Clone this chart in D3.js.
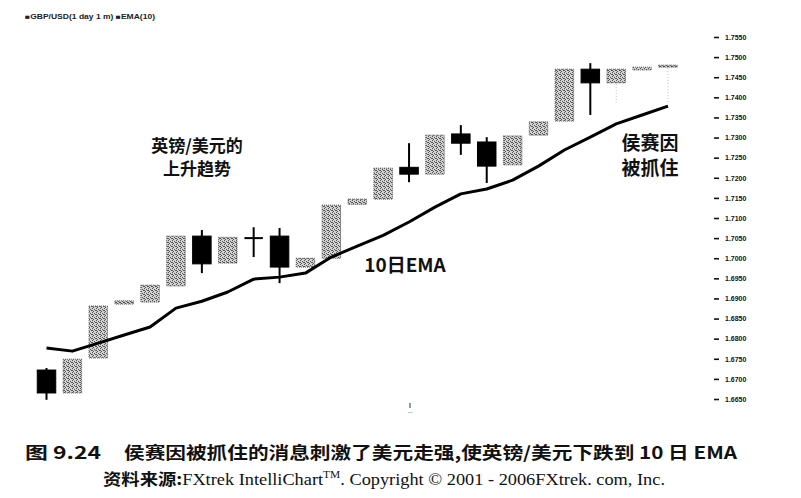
<!DOCTYPE html>
<html>
<head>
<meta charset="utf-8">
<script src="https://cdn.jsdelivr.net/npm/d3@7/dist/d3.min.js"></script>
<style>
  body { margin: 0; background: #fff; }
  .tick text { font-family: "Liberation Sans", Arial, sans-serif; font-size: 7px; font-weight: bold; }
  .note { font-family: "Noto Sans CJK SC", sans-serif; font-weight: bold; fill: #111; }
</style>
</head>
<body>
<div id="chart"></div>
<script>

// Data (GBP/USD daily, 25 sessions)
// ==============================
var days   = [1, 2, 3, 4, 5, 6, 7, 8, 9, 10, 11, 12, 13, 14, 15, 16, 17, 18, 19, 20, 21, 22, 23, 24, 25];
var opens  = [1.6722, 1.6665, 1.6752, 1.6886, 1.6891, 1.6931, 1.7055, 1.6988, 1.7050, 1.7055, 1.6978, 1.7000, 1.7134,
              1.7147, 1.7226, 1.7209, 1.7309, 1.7289, 1.7232, 1.7306, 1.7341, 1.7470, 1.7436, 1.7468, 1.7478];
var highs  = [1.6727, 1.6749, 1.6881, 1.6894, 1.6933, 1.7055, 1.7070, 1.7052, 1.7077, 1.7075, 1.7000, 1.7132, 1.7147,
              1.7224, 1.7286, 1.7306, 1.7331, 1.7301, 1.7304, 1.7339, 1.7470, 1.7485, 1.7470, 1.7475, 1.7480];
var lows   = [1.6648, 1.6665, 1.6752, 1.6886, 1.6891, 1.6931, 1.6963, 1.6988, 1.7003, 1.6938, 1.6978, 1.7000, 1.7134,
              1.7147, 1.7189, 1.7209, 1.7257, 1.7187, 1.7232, 1.7306, 1.7341, 1.7356, 1.7386, 1.7468, 1.7386];
var closes = [1.6665, 1.6749, 1.6881, 1.6894, 1.6933, 1.7055, 1.6986, 1.7052, 1.7050, 1.6978, 1.7000, 1.7132, 1.7147,
              1.7224, 1.7209, 1.7306, 1.7286, 1.7229, 1.7304, 1.7339, 1.7470, 1.7436, 1.7470, 1.7475, 1.7480];
var ema10  = [1.6777, 1.6769, 1.6789, 1.6809, 1.6829, 1.6876, 1.6893, 1.6916, 1.6948, 1.6953, 1.6963, 1.7003, 1.7030,
              1.7057, 1.7090, 1.7127, 1.7160, 1.7172, 1.7194, 1.7229, 1.7269, 1.7301, 1.7334, 1.7356, 1.7378];
var yTicks = [1.6650, 1.6700, 1.6750, 1.6800, 1.6850, 1.6900, 1.6950, 1.7000, 1.7050, 1.7100,
              1.7150, 1.7200, 1.7250, 1.7300, 1.7350, 1.7400, 1.7450, 1.7500, 1.7550];

var svgWidth = 801;
var svgHeight = 498;
var bodyW = 18.5;

var svg = d3.select("#chart")
  .append("svg")
  .attr("width", svgWidth)
  .attr("height", svgHeight)
  .style("background", "#fff");

// stipple fill for the up candles
var pat = svg.append("defs").append("pattern")
  .attr("id", "stipple")
  .attr("width", 4).attr("height", 4)
  .attr("patternUnits", "userSpaceOnUse");
pat.append("rect").attr("width", 4).attr("height", 4).attr("fill", "#d2d2d2");
[[0, 0], [2, 1], [1, 3], [3, 2], [0, 2]].forEach(function(p) {
  pat.append("rect").attr("x", p[0]).attr("y", p[1]).attr("width", 1).attr("height", 1).attr("fill", "#555");
});

var candles = days.map(function(d, i) {
  return { day: d, open: opens[i], high: highs[i], low: lows[i], close: closes[i], ema: ema10[i] };
});

// Scales
// ==============================
var xScale = d3.scalePoint()
  .domain(days)
  .range([46.5, 668]);

var yScale = d3.scaleLinear()
  .domain([1.6650, 1.7550])
  .range([399, 37]);

// right axis
var rightAxis = d3.axisRight(yScale)
  .tickValues(yTicks)
  .tickSize(5)
  .tickPadding(6)
  .tickFormat(d3.format(".4f"));

var axisG = svg.append("g")
  .attr("transform", "translate(714,0)")
  .call(rightAxis);
axisG.select(".domain").remove();
axisG.selectAll(".tick line").attr("stroke", "#111").attr("stroke-width", 1.6);
axisG.selectAll(".tick text").attr("fill", "#111");

// wicks
// ==============================
svg.selectAll("line.wick")
  .data(candles)
  .enter()
  .append("line")
  .attr("class", "wick")
  .attr("x1", d => xScale(d.day))
  .attr("x2", d => xScale(d.day))
  .attr("y1", d => yScale(d.high))
  .attr("y2", d => yScale(d.low))
  .attr("stroke", d => d.close > d.open ? "#bbb" : "#000")
  .attr("stroke-width", d => d.close > d.open ? 1 : 2)
  .attr("stroke-dasharray", d => d.close > d.open ? "1,2" : null);

// bodies
svg.selectAll("rect.body")
  .data(candles.filter(d => d.open !== d.close))
  .enter()
  .append("rect")
  .attr("class", "body")
  .attr("x", d => xScale(d.day) - bodyW / 2)
  .attr("width", bodyW)
  .attr("y", d => yScale(Math.max(d.open, d.close)))
  .attr("height", d => Math.max(2, Math.abs(yScale(d.open) - yScale(d.close))))
  .attr("fill", d => d.close > d.open ? "url(#stipple)" : "#000")
  .attr("stroke", d => d.close > d.open ? "#555" : "#000")
  .attr("stroke-width", 1)
  .attr("stroke-dasharray", d => d.close > d.open ? "1,1" : null);

// doji bar
svg.selectAll("line.doji")
  .data(candles.filter(d => d.open === d.close))
  .enter()
  .append("line")
  .attr("class", "doji")
  .attr("x1", d => xScale(d.day) - bodyW / 2)
  .attr("x2", d => xScale(d.day) + bodyW / 2)
  .attr("y1", d => yScale(d.open))
  .attr("y2", d => yScale(d.open))
  .attr("stroke", "#000")
  .attr("stroke-width", 2);

// EMA line
// ==============================
var emaLine = d3.line()
  .x(d => xScale(d.day))
  .y(d => yScale(d.ema))
  .curve(d3.curveLinear);

svg.append("path")
  .datum(candles)
  .attr("d", emaLine)
  .attr("fill", "none")
  .attr("stroke", "#000")
  .attr("stroke-width", 3)
  .attr("stroke-linejoin", "round");

// tiny legend at top left
svg.append("text")
  .attr("x", 25).attr("y", 19)
  .attr("font-family", "Liberation Sans, Arial, sans-serif")
  .attr("font-size", 6.5)
  .attr("font-weight", "bold")
  .attr("fill", "#222")
  .attr("textLength", 130)
  .attr("lengthAdjust", "spacingAndGlyphs")
  .text("\u25A0GBP/USD(1 day 1 m)  \u25A0EMA(10)");

// small mark under the chart
svg.append("line")
  .attr("x1", 410).attr("x2", 410).attr("y1", 403).attr("y2", 408)
  .attr("stroke", "#333").attr("stroke-width", 1);
svg.append("text")
  .attr("x", 410).attr("y", 413)
  .attr("text-anchor", "middle")
  .attr("font-size", 6).attr("fill", "#555")
  .text("...");

// annotations
// ==============================
svg.append("text").attr("class", "note").attr("x", 197).attr("y", 152)
  .attr("text-anchor", "middle").attr("font-size", 17).text("英镑/美元的");
svg.append("text").attr("class", "note").attr("x", 197).attr("y", 175)
  .attr("text-anchor", "middle").attr("font-size", 17).text("上升趋势");

svg.append("text").attr("class", "note").attr("x", 405).attr("y", 272)
  .attr("text-anchor", "middle").attr("font-size", 19)
  .attr("font-family", "Liberation Sans, Arial, sans-serif")
  .text("10日EMA");

svg.append("text").attr("class", "note").attr("x", 650).attr("y", 150)
  .attr("text-anchor", "middle").attr("font-size", 19).text("侯赛因");
svg.append("text").attr("class", "note").attr("x", 650).attr("y", 175)
  .attr("text-anchor", "middle").attr("font-size", 19).text("被抓住");

// caption
// ==============================
svg.append("text")
  .attr("x", 25).attr("y", 459)
  .attr("font-family", "Noto Sans CJK SC, sans-serif")
  .attr("font-weight", "bold")
  .attr("font-size", 17)
  .attr("fill", "#111")
  .attr("textLength", 76)
  .attr("lengthAdjust", "spacingAndGlyphs")
  .text("图 9.24");

svg.append("text")
  .attr("x", 124).attr("y", 459)
  .attr("font-family", "Noto Sans CJK SC, sans-serif")
  .attr("font-weight", "bold")
  .attr("font-size", 17)
  .attr("fill", "#111")
  .attr("textLength", 613)
  .attr("lengthAdjust", "spacingAndGlyphs")
  .text("侯赛因被抓住的消息刺激了美元走强,使英镑/美元下跌到 10 日 EMA");

var cap2 = svg.append("text")
  .attr("x", 103).attr("y", 485)
  .attr("font-size", 16)
  .attr("fill", "#111")
  .attr("textLength", 562)
  .attr("lengthAdjust", "spacingAndGlyphs");
cap2.append("tspan").attr("font-family", "Noto Sans CJK SC, sans-serif").attr("font-weight", "bold").text("资料来源:");
cap2.append("tspan").attr("font-family", "Liberation Serif, serif").text("FXtrek IntelliChart");
cap2.append("tspan").attr("font-family", "Liberation Serif, serif")
  .attr("font-size", 10).attr("dy", -7).text("TM");
cap2.append("tspan").attr("font-family", "Liberation Serif, serif")
  .attr("dy", 7).text(". Copyright \u00A9 2001 - 2006FXtrek. com, Inc.");

</script>
</body>
</html>
